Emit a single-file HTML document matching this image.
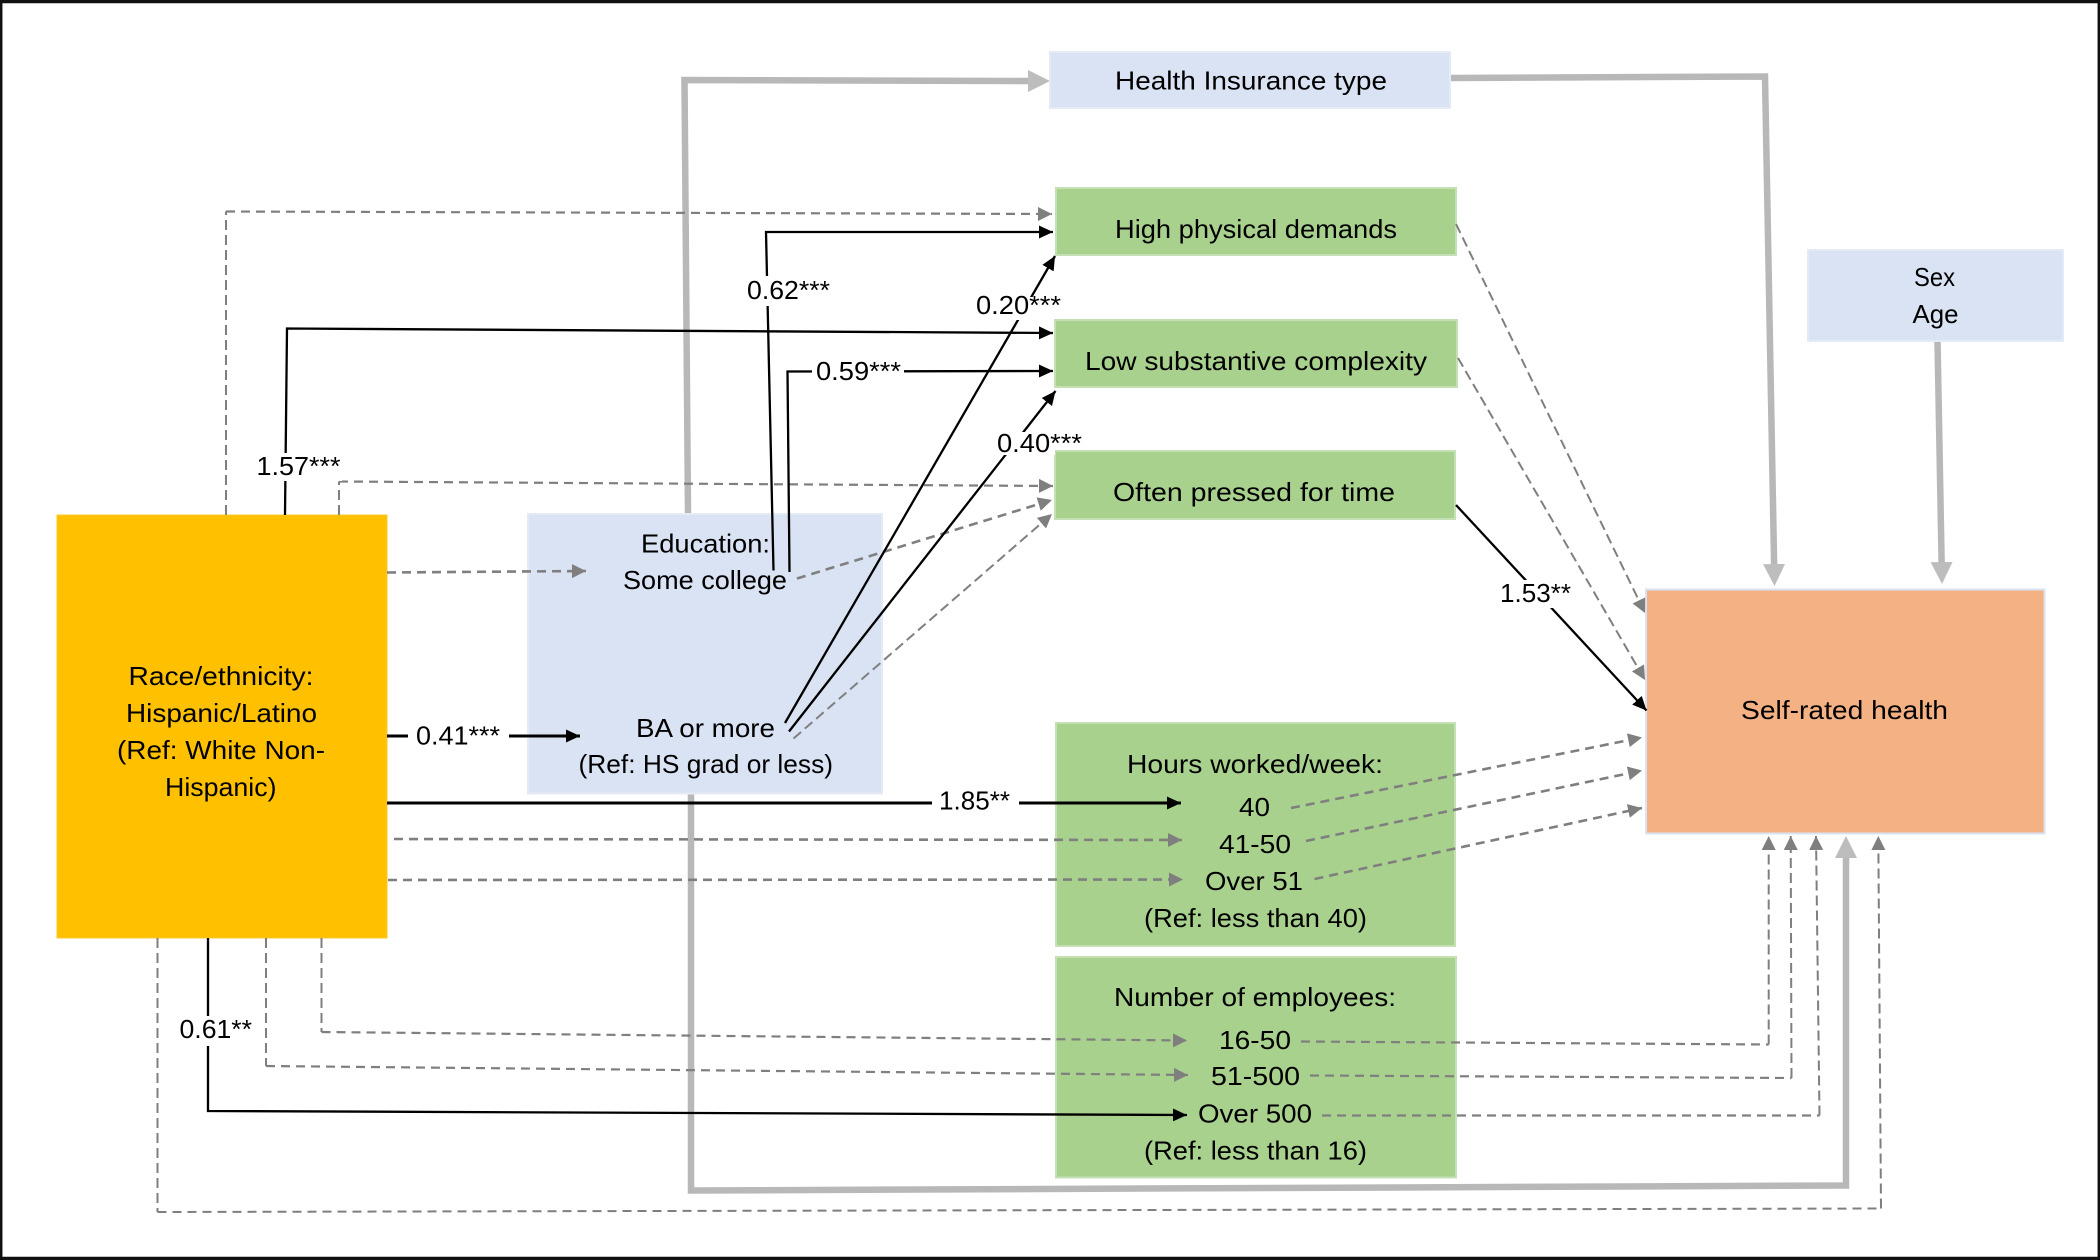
<!DOCTYPE html>
<html>
<head>
<meta charset="utf-8">
<style>
html,body{margin:0;padding:0;background:#fff}
svg{display:block}
text{font-family:"Liberation Sans",sans-serif;font-size:26px;fill:#000}
.d{fill:none;stroke:#7f7f7f;stroke-width:2.6;stroke-dasharray:9 6}
.t{fill:none;stroke:#7f7f7f;stroke-width:2;stroke-dasharray:10 5}
.b{fill:none;stroke:#000;stroke-width:2.3}
.g{fill:none;stroke:#b8b8b8;stroke-width:6.500}
</style>
</head>
<body>
<svg xmlns="http://www.w3.org/2000/svg" width="2100" height="1260" viewBox="0 0 2100 1260">
<defs>
<marker id="ab" markerUnits="userSpaceOnUse" markerWidth="16" markerHeight="15" refX="14" refY="7.500" orient="auto"><path d="M0 1L14 7.500L0 14z" fill="#000"/></marker>
<marker id="ad" markerUnits="userSpaceOnUse" markerWidth="16" markerHeight="16" refX="14" refY="8" orient="auto"><path d="M0 1L14 8L0 15z" fill="#7f7f7f"/></marker>
<marker id="ag" markerUnits="userSpaceOnUse" markerWidth="24" markerHeight="24" refX="10" refY="12" orient="auto"><path d="M0 1L22 12L0 23z" fill="#bdbdbd"/></marker>
</defs>
<rect x="0" y="0" width="2100" height="1260" fill="#fff"/>

<!-- thick gray connectors -->
<path class="g" d="M688 514L684.500 80L1038 81" marker-end="url(#ag)"/>
<path class="g" d="M1451 78L1765 76.500L1774.300 574" marker-end="url(#ag)"/>
<path class="g" d="M1937.500 341L1941.800 572" marker-end="url(#ag)"/>
<path class="g" d="M691 793L691 1190.500L1846 1185.500L1846 848" marker-end="url(#ag)"/>

<!-- boxes -->
<g stroke-width="2">
<rect x="57" y="515" width="330" height="423" fill="#ffc000" stroke="#ffc92e" stroke-width="1"/>
<rect x="528" y="514" width="354" height="279.500" fill="#dae3f3" stroke="#e4eaf6"/>
<rect x="1050" y="52" width="400" height="56" fill="#dae3f3" stroke="#e4eaf6"/>
<rect x="1056" y="188" width="400" height="67" fill="#a9d18e" stroke="#c5e0b4"/>
<rect x="1055" y="320" width="402" height="67" fill="#a9d18e" stroke="#c5e0b4"/>
<rect x="1055" y="451" width="400" height="68" fill="#a9d18e" stroke="#c5e0b4"/>
<rect x="1808" y="250" width="255" height="91" fill="#dae3f3" stroke="#e4eaf6"/>
<rect x="1646" y="589.500" width="398.500" height="244" fill="#f4b183" stroke="#dae3f3"/>
<rect x="1056" y="723" width="399" height="223" fill="#a9d18e" stroke="#c5e0b4"/>
<rect x="1056" y="957" width="400" height="220.500" fill="#a9d18e" stroke="#c5e0b4"/>
</g>

<!-- dashed connectors -->
<path class="t" d="M226 515L226 211.500"/>
<path class="d" style="stroke-width:2.200" d="M226 211.500L1052 214" marker-end="url(#ad)"/>
<path class="t" d="M339 515L339 481.500"/>
<path class="d" style="stroke-width:2.200" d="M339 481.500L1053 486" marker-end="url(#ad)"/>
<path class="d" d="M387 572.500L586 571" marker-end="url(#ad)"/>
<path class="d" d="M797 578.500L1052 500" marker-end="url(#ad)"/>
<path class="t" d="M793.500 738.500L1052 514" marker-end="url(#ad)"/>
<path class="d" d="M394 839L1182 840" marker-end="url(#ad)"/>
<path class="d" d="M388 880L1183 879.500" marker-end="url(#ad)"/>
<path class="t" d="M321.500 938L321.500 1032"/>
<path class="d" style="stroke-width:2.200" d="M321.500 1032L1187 1040.500" marker-end="url(#ad)"/>
<path class="t" d="M266 938L266 1066"/>
<path class="d" style="stroke-width:2.200" d="M266 1066L1188 1075" marker-end="url(#ad)"/>
<path class="t" d="M157.500 938L157.500 1212"/>
<path class="d" style="stroke-width:2" d="M157.500 1212L1881 1208.500"/>
<path class="t" d="M1881 1208.500L1878.300 836" marker-end="url(#ad)"/>
<path class="t" d="M1456 224L1645 613" marker-end="url(#ad)"/>
<path class="t" d="M1458 358L1645 680" marker-end="url(#ad)"/>
<path class="d" d="M1291 808L1642 737.500" marker-end="url(#ad)"/>
<path class="d" d="M1306 841L1642 770.500" marker-end="url(#ad)"/>
<path class="d" d="M1314.500 879L1642 808" marker-end="url(#ad)"/>
<path class="d" style="stroke-width:2.200" d="M1301 1041.500L1768.700 1044.500"/>
<path class="t" d="M1768.700 1044.500L1768.700 836" marker-end="url(#ad)"/>
<path class="d" style="stroke-width:2.200" d="M1310 1075.500L1791.500 1078"/>
<path class="t" d="M1791.500 1078L1790.700 836" marker-end="url(#ad)"/>
<path class="d" style="stroke-width:2.200" d="M1322 1115.500L1819.500 1115.500"/>
<path class="t" d="M1819.500 1115.500L1816 836" marker-end="url(#ad)"/>

<!-- black connectors -->
<path class="b" d="M285 515L287 328.500L1053 333" marker-end="url(#ab)"/>
<path class="b" d="M773.500 570.500L766 232L1053 232" marker-end="url(#ab)"/>
<path class="b" d="M789.500 572L787.500 371.500L1053 371" marker-end="url(#ab)"/>
<path class="b" d="M785 723L1055 256" marker-end="url(#ab)"/>
<path class="b" d="M789 731.500L1055.500 391" marker-end="url(#ab)"/>
<path class="b" d="M1456 505L1646.500 710.500" marker-end="url(#ab)"/>
<path class="b" style="stroke-width:3" d="M387 736L580 736" marker-end="url(#ab)"/>
<path class="b" style="stroke-width:3" d="M387 803L1181 803" marker-end="url(#ab)"/>
<path class="b" d="M208 938L208 1111L1187 1115" marker-end="url(#ab)"/>

<!-- label backgrounds -->
<g fill="#fff">
<rect x="744" y="276" width="88" height="30"/>
<rect x="974" y="297" width="80" height="23"/>
<rect x="812" y="358" width="92" height="28"/>
<rect x="995" y="432" width="60" height="23"/>
<rect x="254" y="453" width="88" height="28"/>
<rect x="408" y="722" width="101" height="30"/>
<rect x="932" y="788" width="87" height="28"/>
<rect x="177" y="1016" width="77" height="30"/>
<rect x="1498" y="580" width="75" height="28"/>
</g>

<!-- text -->
<text x="1115" y="89.500" textLength="272" lengthAdjust="spacingAndGlyphs">Health Insurance type</text>
<text x="1115" y="238" textLength="282" lengthAdjust="spacingAndGlyphs">High physical demands</text>
<text x="1085" y="370" textLength="342" lengthAdjust="spacingAndGlyphs">Low substantive complexity</text>
<text x="1113" y="501" textLength="282" lengthAdjust="spacingAndGlyphs">Often pressed for time</text>
<text x="1914" y="286" textLength="41" lengthAdjust="spacingAndGlyphs">Sex</text>
<text x="1912.500" y="323" textLength="46" lengthAdjust="spacingAndGlyphs">Age</text>
<text x="1500" y="602" textLength="71" lengthAdjust="spacingAndGlyphs">1.53**</text>
<text x="1741" y="719" textLength="207" lengthAdjust="spacingAndGlyphs">Self-rated health</text>
<text x="1127" y="773" textLength="256" lengthAdjust="spacingAndGlyphs">Hours worked/week:</text>
<text x="1239" y="816" textLength="31" lengthAdjust="spacingAndGlyphs">40</text>
<text x="1219" y="853" textLength="72" lengthAdjust="spacingAndGlyphs">41-50</text>
<text x="1205" y="890" textLength="98" lengthAdjust="spacingAndGlyphs">Over 51</text>
<text x="1144" y="927" textLength="223" lengthAdjust="spacingAndGlyphs">(Ref: less than 40)</text>
<text x="1114" y="1006" textLength="282" lengthAdjust="spacingAndGlyphs">Number of employees:</text>
<text x="1219" y="1049" textLength="72" lengthAdjust="spacingAndGlyphs">16-50</text>
<text x="1211" y="1085" textLength="89" lengthAdjust="spacingAndGlyphs">51-500</text>
<text x="1198" y="1122.500" textLength="114" lengthAdjust="spacingAndGlyphs">Over 500</text>
<text x="1144" y="1159.500" textLength="223" lengthAdjust="spacingAndGlyphs">(Ref: less than 16)</text>
<text x="641" y="552.500" textLength="129" lengthAdjust="spacingAndGlyphs">Education:</text>
<text x="623" y="589" textLength="164" lengthAdjust="spacingAndGlyphs">Some college</text>
<text x="747" y="299" textLength="83" lengthAdjust="spacingAndGlyphs">0.62***</text>
<text x="976" y="314" textLength="85" lengthAdjust="spacingAndGlyphs">0.20***</text>
<text x="816" y="380" textLength="85" lengthAdjust="spacingAndGlyphs">0.59***</text>
<text x="997" y="452" textLength="85" lengthAdjust="spacingAndGlyphs">0.40***</text>
<text x="256.500" y="475" textLength="84" lengthAdjust="spacingAndGlyphs">1.57***</text>
<text x="128.500" y="685" textLength="185" lengthAdjust="spacingAndGlyphs">Race/ethnicity:</text>
<text x="126" y="722" textLength="191" lengthAdjust="spacingAndGlyphs">Hispanic/Latino</text>
<text x="117" y="759" textLength="208" lengthAdjust="spacingAndGlyphs">(Ref: White Non-</text>
<text x="165" y="796" textLength="111.500" lengthAdjust="spacingAndGlyphs">Hispanic)</text>
<text x="416" y="744.500" textLength="84" lengthAdjust="spacingAndGlyphs">0.41***</text>
<text x="636" y="737" textLength="139" lengthAdjust="spacingAndGlyphs">BA or more</text>
<text x="578.500" y="773" textLength="254.500" lengthAdjust="spacingAndGlyphs">(Ref: HS grad or less)</text>
<text x="939" y="809.500" textLength="71" lengthAdjust="spacingAndGlyphs">1.85**</text>
<text x="179.500" y="1038" textLength="72.500" lengthAdjust="spacingAndGlyphs">0.61**</text>

<!-- frame -->
<path d="M0 1.500H2100M0 1258.500H2100" stroke="#111" stroke-width="3.500" fill="none"/>
<path d="M1.200 0V1260M2098.800 0V1260" stroke="#111" stroke-width="2.500" fill="none"/>
</svg>
</body>
</html>
